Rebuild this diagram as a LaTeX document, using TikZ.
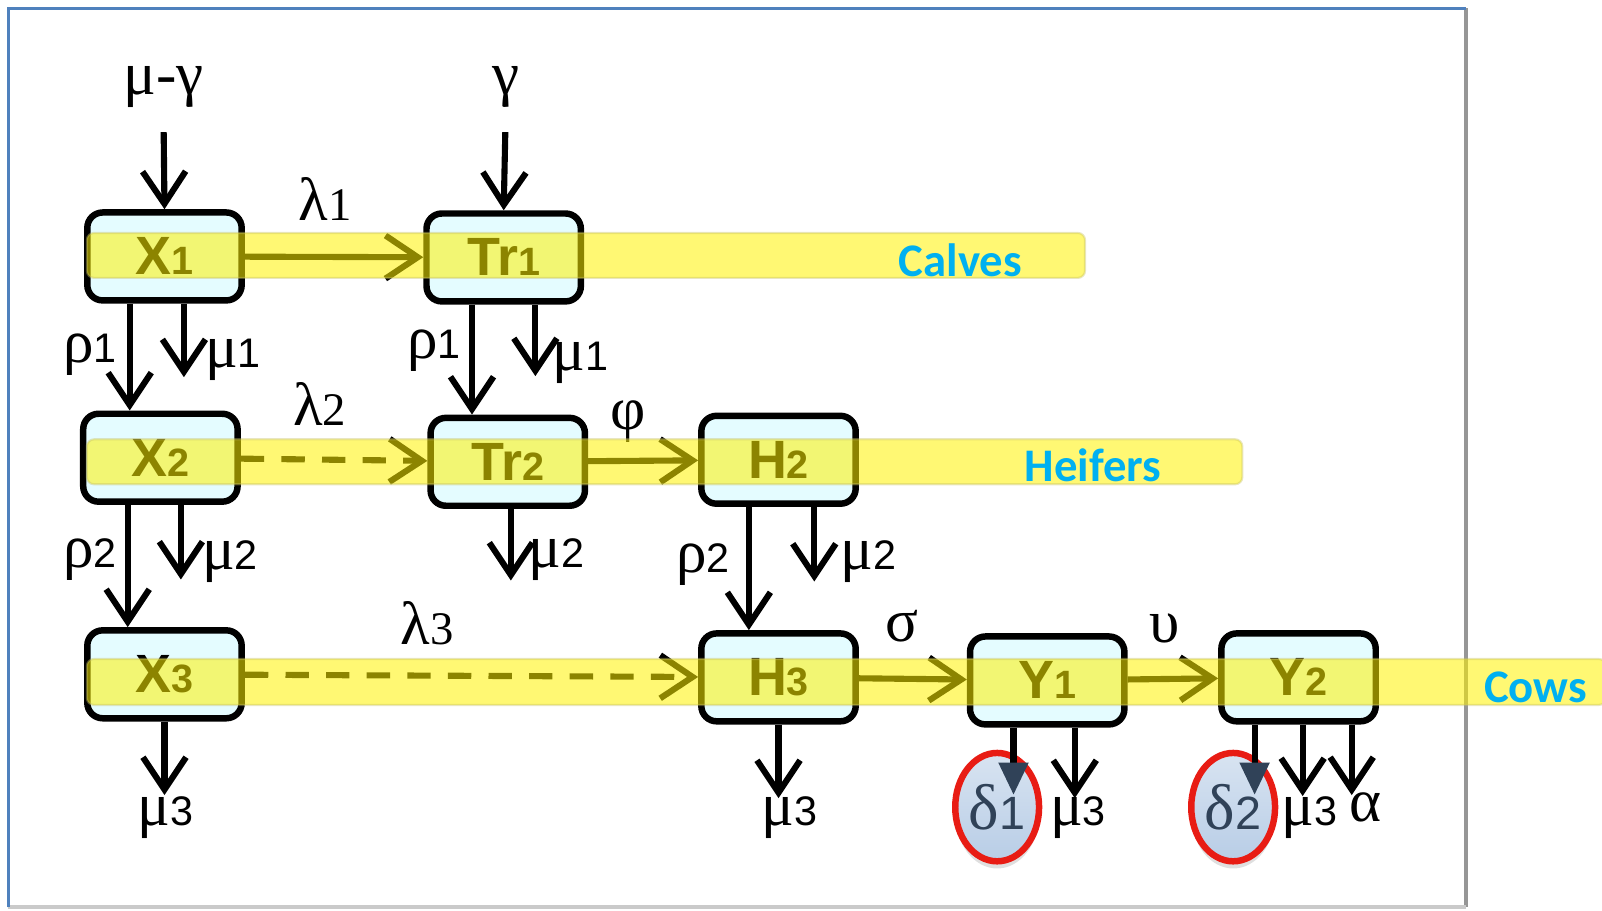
\documentclass[tikz,border=0pt]{standalone}
\usepackage{fontspec}
\setmainfont{Liberation Serif}
\setsansfont{Liberation Sans}
\newfontfamily\bandfont{Carlito}
\usepackage{xcolor}
\usepackage{tikz}
\usetikzlibrary{shapes.geometric, arrows.meta, shadows}

\definecolor{boxfill}{RGB}{228,252,255}
\definecolor{bandblue}{RGB}{0,176,240}
\definecolor{frameblue}{RGB}{79,129,189}
\definecolor{framegrey}{RGB}{150,150,150}
\definecolor{deltafill}{RGB}{184,205,230}
\definecolor{deltared}{RGB}{232,28,20}
\definecolor{slate}{RGB}{48,66,88}

\newcommand{\stagelab}[2]{{\sffamily\bfseries\fontsize{15}{15}\selectfont #1}{\sffamily\bfseries\fontsize{11}{11}\selectfont #2}}
\newcommand{\gsub}[2]{#1{\sffamily\fontsize{11.5}{11.5}\selectfont #2}}
\newcommand{\lsub}[2]{#1{\fontsize{13}{13}\selectfont #2}}

\tikzstyle{stage} = [rectangle, rounded corners=1.5mm, minimum width=1.51cm, minimum height=0.86cm, inner sep=0pt, text centered, draw=black, line width=1.8pt, fill=boxfill]
\tikzstyle{flow} = [line width=1.7pt, -{Straight Barb[length=9pt,width=12pt]}]
\tikzstyle{cross} = [flow, dash pattern=on 6.5pt off 4.8pt]
\tikzstyle{greek} = [font=\fontsize{17}{17}\selectfont, inner sep=1pt]
\tikzstyle{band} = [fill=yellow, fill opacity=0.55, draw=olive!50, draw opacity=0.4, line width=0.6pt, rounded corners=2pt]
\tikzstyle{bandlabel} = [font=\bandfont\bfseries\fontsize{13}{13}\selectfont, text=bandblue]
\tikzstyle{exitoval} = [ellipse, draw=deltared, line width=1.8pt, top color=deltafill!55!white, bottom color=deltafill, minimum width=0.82cm, minimum height=1.06cm, inner sep=0pt, text=slate, font=\fontsize{18}{18}\selectfont, drop shadow={opacity=0.25, shadow xshift=0pt, shadow yshift=-2pt}]

\begin{document}
\begin{tikzpicture}[x=0.01cm, y=-0.01cm]
   \useasboundingbox (0,0) rectangle (1568,891);
   % frame
   \draw [framegrey, line width=1pt] (1435,8) -- (1435,888);
   \draw [framegrey!50, line width=1pt] (1435,888) -- (8,888);
   \draw [frameblue, line width=0.8pt] (8,888) -- (8,8) -- (1435,8);

   % stages
   \node (X1) [stage] at (161,251) {\stagelab{X}{1}};
   \node (Tr1) [stage] at (493,252) {\stagelab{Tr}{1}};
   \node (X2) [stage] at (157,448) {\stagelab{X}{2}};
   \node (Tr2) [stage] at (497,452) {\stagelab{Tr}{2}};
   \node (H2) [stage] at (762,450) {\stagelab{H}{2}};
   \node (X3) [stage] at (161,660) {\stagelab{X}{3}};
   \node (H3) [stage] at (762,663) {\stagelab{H}{3}};
   \node (Y1) [stage] at (1025,666) {\stagelab{Y}{1}};
   \node (Y2) [stage] at (1271,663) {\stagelab{Y}{2}};

   % births
   \node (inX) [greek] at (160,85) {μ-γ};
   \node (inTr) [greek] at (495,85) {γ};
   \draw [flow, shorten <=2mm] (inX.south) -- (X1.north);
   \draw [flow, shorten <=2mm] (inTr.south) -- (Tr1.north);

   % transfers along rows
   \draw [flow] (X1) -- (Tr1);
   \draw [cross] (X2) -- (Tr2);
   \draw [flow] (Tr2) -- (H2);
   \draw [cross] (X3) -- (H3);
   \draw [flow] (H3) -- (Y1);
   \draw [flow] (Y1) -- (Y2);
   \node (lam1) [greek] at (318,195) {\lsub{λ}{1}};
   \node (lam2) [greek] at (313,395) {\lsub{λ}{2}};
   \node (phi) [greek] at (615,413) {φ};
   \node (lam3) [greek] at (418,610) {\lsub{λ}{3}};
   \node (sig) [greek] at (883,613) {σ};
   \node (ups) [greek] at (1140,615) {υ};

   % ageing and deaths
   \draw [flow] ([xshift=-3.4mm]X1.south) -- ([xshift=-3.4mm]X1.south |- X2.north);
   \draw [flow] ([xshift=1.9mm]X1.south) -- ++(0,72);
   \draw [flow] ([xshift=-3.1mm]Tr1.south) -- ([xshift=-3.1mm]Tr1.south |- Tr2.north);
   \draw [flow] ([xshift=3.1mm]Tr1.south) -- ++(0,70);
   \draw [flow] ([xshift=-3.2mm]X2.south) -- ([xshift=-3.2mm]X2.south |- X3.north);
   \draw [flow] ([xshift=2mm]X2.south) -- ++(0,73);
   \draw [flow] ([xshift=0.3mm]Tr2.south) -- ++(0,70);
   \draw [flow] ([xshift=-2.9mm]H2.south) -- ([xshift=-2.9mm]H2.south |- H3.north);
   \draw [flow] ([xshift=3.5mm]H2.south) -- ++(0,73);
   \draw [flow] (X3.south) -- ++(0,72);
   \draw [flow] (H3.south) -- ++(0,72);
   \draw [flow] ([xshift=2.7mm]Y1.south) -- ++(0,69);
   \draw [flow] ([xshift=0.4mm]Y2.south) -- ++(0,70);
   \draw [flow] ([xshift=5.2mm]Y2.south) -- ++(0,69);

   \node (r1X) [greek] at (88,347) {\gsub{ρ}{1}};
   \node (m1X) [greek] at (228,352) {\gsub{μ}{1}};
   \node (r1T) [greek] at (425,343) {\gsub{ρ}{1}};
   \node (m1T) [greek] at (568,355) {\gsub{μ}{1}};
   \node (r2X) [greek] at (88,548) {\gsub{ρ}{2}};
   \node (m2X) [greek] at (225,550) {\gsub{μ}{2}};
   \node (m2T) [greek] at (545,548) {\gsub{μ}{2}};
   \node (r2H) [greek] at (688,553) {\gsub{ρ}{2}};
   \node (m2H) [greek] at (850,550) {\gsub{μ}{2}};
   \node (m3X) [greek] at (162,800) {\gsub{μ}{3}};
   \node (m3H) [greek] at (773,800) {\gsub{μ}{3}};
   \node (m3Y1) [greek] at (1055,800) {\gsub{μ}{3}};
   \node (m3Y2) [greek] at (1282,800) {\gsub{μ}{3}};
   \node (alf) [greek] at (1337,790) {α};

   % culling
   \node (d1) [exitoval] at (976,790) {δ{\sffamily\fontsize{13}{13}\selectfont 1}};
   \node (d2) [exitoval] at (1207,790) {δ{\sffamily\fontsize{13}{13}\selectfont 2}};
   \coordinate (d1in) at (992,778);
   \coordinate (d2in) at (1228,778);
   \draw [line width=1.7pt, -{Triangle[length=9pt,width=8pt,color=slate]}] (Y1.south -| d1in) -- (d1in);
   \draw [line width=1.7pt, -{Triangle[length=9pt,width=8pt,color=slate]}] (Y2.south -| d2in) -- (d2in);

   % groups
   \draw [band] (85,228) rectangle (1062,272);
   \draw [band] (85,430) rectangle (1216,474);
   \draw [band] (85,645) rectangle (1572,690);
   \node (calves) [bandlabel] at (940,255) {Calves};
   \node (heifers) [bandlabel] at (1070,455) {Heifers};
   \node (cows) [bandlabel] at (1503,673) {Cows};
\end{tikzpicture}
\end{document}
